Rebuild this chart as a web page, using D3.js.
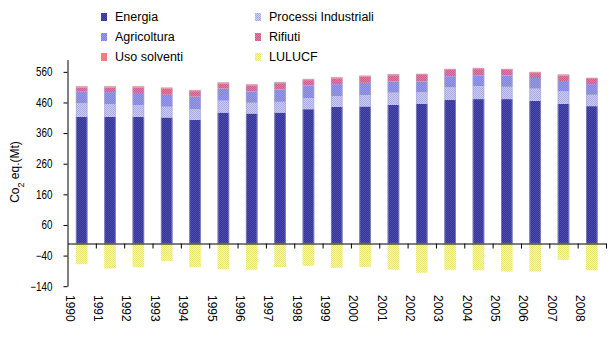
<!DOCTYPE html>
<html lang="it">
  <head>
    <meta charset="utf-8" />
    <title>Emissioni di gas serra</title>
    <script src="https://d3js.org/d3.v7.min.js" charset="utf-8"></script>
    <style>
      body { margin: 0; background: #fff; }
      text { font-family: "Liberation Sans", Arial, sans-serif; fill: #000; }
    </style>
  </head>
  <body>
    <div id="graph-container"></div>
    <script type="text/javascript">
      // data (Mt CO2 eq.)
      const years = ["1990","1991","1992","1993","1994","1995","1996","1997","1998","1999",
        "2000","2001","2002","2003","2004","2005","2006","2007","2008"];
      const energia = [413,413,413,411,403,427,424,427,438,446,447,452,456,468,471,471,465,456,448];
      const processi = [44,42,38,35,35,39,35,35,36,35,37,40,37,41,42,40,40,40,37];
      const agricoltura = [38,39,40,39,41,39,37,41,42,39,40,37,36,37,36,37,35,34,35];
      const rifiuti = [14,15,18,20,18,17,20,20,17,19,20,20,21,20,20,18,16,18,17];
      const solventi = [3.5,3.5,3.5,3,3,3,3,3,3,3,3,3,3,3,3,3,3,3,3];
      const lulucf = [-68,-82,-78,-58,-78,-85,-86,-77,-73,-80,-77,-86,-96,-86,-88,-92,-92,-54,-88];
      const yTicks = [-140,-40,60,160,260,360,460,560];

      const cSeries = [
        { key: "energia", label: "Energia", values: energia, c1: "#333399", c2: "#4d4daa" },
        { key: "processi", label: "Processi Industriali", values: processi, c1: "#ccccff", c2: "#aaaadd" },
        { key: "agricoltura", label: "Agricoltura", values: agricoltura, c1: "#8080ff", c2: "#9999e6" },
        { key: "rifiuti", label: "Rifiuti", values: rifiuti, c1: "#ee77a0", c2: "#c8608e" },
        { key: "solventi", label: "Uso solventi", values: solventi, c1: "#ff6e6e", c2: "#f28c8c" },
      ];
      const cLulucf = { key: "lulucf", label: "LULUCF", c1: "#ffff80", c2: "#e4e47a" };

      const cW = 615, cH = 346;
      const svg = d3
        .select("#graph-container")
        .append("svg")
        .attr("width", cW)
        .attr("height", cH);

      //dither patterns, like the old spreadsheet fills
      const defs = svg.append("defs");
      [...cSeries, cLulucf].forEach((s) => {
        const p = defs
          .append("pattern")
          .attr("id", "pat-" + s.key)
          .attr("patternUnits", "userSpaceOnUse")
          .attr("width", 2)
          .attr("height", 2);
        p.append("rect").attr("width", 2).attr("height", 2).attr("fill", s.c1);
        p.append("rect").attr("width", 1).attr("height", 1).attr("fill", s.c2);
        p.append("rect").attr("x", 1).attr("y", 1).attr("width", 1).attr("height", 1).attr("fill", s.c2);
      });

      //scales
      const x = d3.scaleBand().domain(years).range([67.5, 606]).paddingInner(0.59).paddingOuter(0.295);
      const xEdge = d3.scaleLinear().domain([0, years.length]).range([67.5, 606]);
      const y = d3.scaleLinear().domain([-140, 600]).range([286.2, 59.6]);

      //stacked positive bars
      const table = years.map((yr, i) => {
        const row = { year: yr };
        cSeries.forEach((s) => (row[s.key] = s.values[i]));
        return row;
      });
      const stacked = d3.stack().keys(cSeries.map((s) => s.key))(table);

      svg
        .append("g")
        .selectAll("g")
        .data(stacked)
        .enter()
        .append("g")
        .attr("fill", (d) => "url(#pat-" + d.key + ")")
        .selectAll("rect")
        .data((d) => d)
        .enter()
        .append("rect")
        .attr("x", (d) => x(d.data.year))
        .attr("y", (d) => y(d[1]))
        .attr("width", x.bandwidth())
        .attr("height", (d) => y(d[0]) - y(d[1]));

      //LULUCF below zero
      svg
        .append("g")
        .attr("fill", "url(#pat-lulucf)")
        .selectAll("rect")
        .data(lulucf)
        .enter()
        .append("rect")
        .attr("x", (d, i) => x(years[i]))
        .attr("y", y(0))
        .attr("width", x.bandwidth())
        .attr("height", (d) => y(d) - y(0));

      //soft edges on the bars
      svg
        .append("g")
        .selectAll("rect")
        .data(years)
        .enter()
        .append("rect")
        .attr("x", (d) => x(d) + 0.5)
        .attr("y", (d, i) => y(d3.sum(cSeries, (s) => s.values[i])))
        .attr("width", x.bandwidth() - 1)
        .attr("height", (d, i) => y(0) - y(d3.sum(cSeries, (s) => s.values[i])))
        .attr("fill", "none")
        .attr("stroke", "rgba(170,170,205,0.55)")
        .attr("stroke-width", 1);

      //axis handle
      const cSquash = 0.82;
      const yAxis = d3.axisLeft(y).tickValues(yTicks).tickSizeInner(4).tickSizeOuter(0).tickPadding(11);
      svg
        .append("g")
        .attr("transform", "translate(67.5,0)")
        .call(yAxis)
        .call((g) =>
          g
            .selectAll("text")
            .attr("x", -15 / cSquash)
            .attr("transform", `scale(${cSquash},1)`)
            .style("font-size", "12px")
            .style("font-family", '"Liberation Sans", Arial, sans-serif')
        );

      const xAxis = d3
        .axisBottom(xEdge)
        .tickValues(d3.range(1, years.length + 1))
        .tickSizeInner(5)
        .tickSizeOuter(0)
        .tickFormat("");
      svg
        .append("g")
        .attr("transform", `translate(0,${Math.round(y(0)) + 0.5})`)
        .call(xAxis);

      svg.selectAll(".domain, .tick line").attr("stroke", "#000");

      //year labels, rotated
      svg
        .append("g")
        .selectAll("text")
        .data(years)
        .enter()
        .append("text")
        .attr("transform", (d, i) => `translate(${xEdge(i) + 2.5},295) rotate(90)`)
        .attr("dy", "0.35em")
        .style("font-size", "12px")
        .text((d) => d);

      //y title
      const title = svg
        .append("text")
        .attr("transform", "translate(19,172) rotate(-90)")
        .attr("text-anchor", "middle")
        .style("font-size", "12px");
      title.append("tspan").text("Co");
      title.append("tspan").attr("baseline-shift", "sub").style("font-size", "9px").text("2");
      title.append("tspan").text(" eq.(Mt)");

      //legend setting
      const legendItems = [cSeries[0], cSeries[1], cSeries[2], cSeries[3], cSeries[4], cLulucf];
      const legendCol = [101, 255];
      const legendRow = [17, 37, 57];
      const legend = svg.append("g");
      const item = legend
        .selectAll("g")
        .data(legendItems)
        .enter()
        .append("g")
        .attr("transform", (d, i) => `translate(${legendCol[i % 2]},${legendRow[Math.floor(i / 2)]})`);
      item
        .append("rect")
        .attr("x", 0)
        .attr("y", -4)
        .attr("width", 6)
        .attr("height", 8)
        .attr("fill", (d) => "url(#pat-" + d.key + ")");
      item
        .append("text")
        .attr("x", 14)
        .attr("dy", "0.35em")
        .style("font-size", "12.5px")
        .text((d) => d.label);
    </script>
  </body>
</html>
